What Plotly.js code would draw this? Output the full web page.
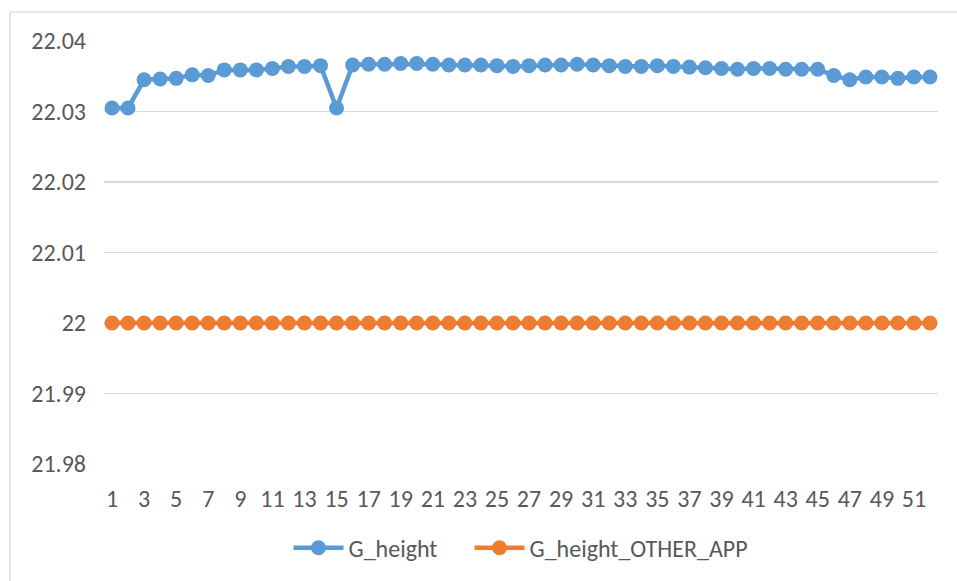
<!DOCTYPE html>
<html><head><meta charset="utf-8">
<script src="https://cdn.plot.ly/plotly-3.0.1.min.js"></script>
<style>html,body{margin:0;padding:0;background:#fff}#c{width:957px;height:581px}</style>
</head><body><div id="c"></div>
<script>
const categories = Array.from({length:52},(_,i)=>String(i+1));
const gHeight = [22.0305,22.0305,22.0345,22.0346,22.0347,22.0352,22.0351,22.0359,22.0359,22.0359,
22.0361,22.0364,22.0364,22.0365,22.0305,22.0366,22.0367,22.0367,22.0368,22.0368,
22.0367,22.0366,22.0366,22.0366,22.0365,22.0364,22.0365,22.0366,22.0366,22.0367,
22.0366,22.0365,22.0364,22.0364,22.0365,22.0364,22.0363,22.0362,22.0361,22.0360,
22.0361,22.0361,22.0360,22.0360,22.0360,22.0351,22.0345,22.0349,22.0349,22.0347,
22.0349,22.0349];
const gHeightOther = Array(52).fill(22.00);
const tickLabels = categories.filter((_,i)=>i%2===0);
const yTicks = [21.98,21.99,22,22.01,22.02,22.03,22.04];
const seriesNames = ['G_height','G_height_OTHER_APP'];

const font = {family:'Carlito, Lato, "Liberation Sans", sans-serif', size:24, color:'#595959'};
const pad = '\u00a0\u00a0\u00a0\u00a0\u00a0';
const traces = [
 {x:categories, y:gHeight, name:seriesNames[0] + pad, type:'scatter', mode:'lines+markers',
  line:{color:'#5B9BD5', width:4.5}, marker:{color:'#5B9BD5', size:15}},
 {x:categories, y:gHeightOther, name:seriesNames[1], type:'scatter', mode:'lines+markers',
  line:{color:'#ED7D31', width:4.5}, marker:{color:'#ED7D31', size:15}}
];
const layout = {
 width:957, height:581, margin:{l:104, r:19, t:41, b:116},
 paper_bgcolor:'#fff', plot_bgcolor:'#fff', font:font, showlegend:true,
 xaxis:{type:'category', tickvals:tickLabels, ticktext:tickLabels, showgrid:false, zeroline:false,
   showline:false, ticks:'', tickfont:font, range:[-0.5,51.5], ticklabelstandoff:18},
 yaxis:{range:[21.98,22.04], tickvals:yTicks, ticktext:yTicks.map(v=>String(+v.toFixed(2))),
   showgrid:true, gridcolor:'#D9D9D9', gridwidth:1.3, zeroline:false, showline:false, ticks:'',
   tickfont:font, ticklabelstandoff:17},
 legend:{orientation:'h', x:0.5, xanchor:'center', y:-0.196, yanchor:'middle', font:font, itemwidth:50},
 shapes:[
  {type:'line', xref:'paper', yref:'paper', x0:-0.1127, x1:-0.1127, y0:-0.3, y1:1.0684, line:{color:'#D9D9D9', width:1.3}},
  {type:'line', xref:'paper', yref:'paper', x0:-0.1127, x1:1.05, y0:1.0684, y1:1.0684, line:{color:'#D9D9D9', width:1.3}}
 ]
};
Plotly.newPlot('c', traces, layout, {displayModeBar:false, staticPlot:true});
</script></body></html>
